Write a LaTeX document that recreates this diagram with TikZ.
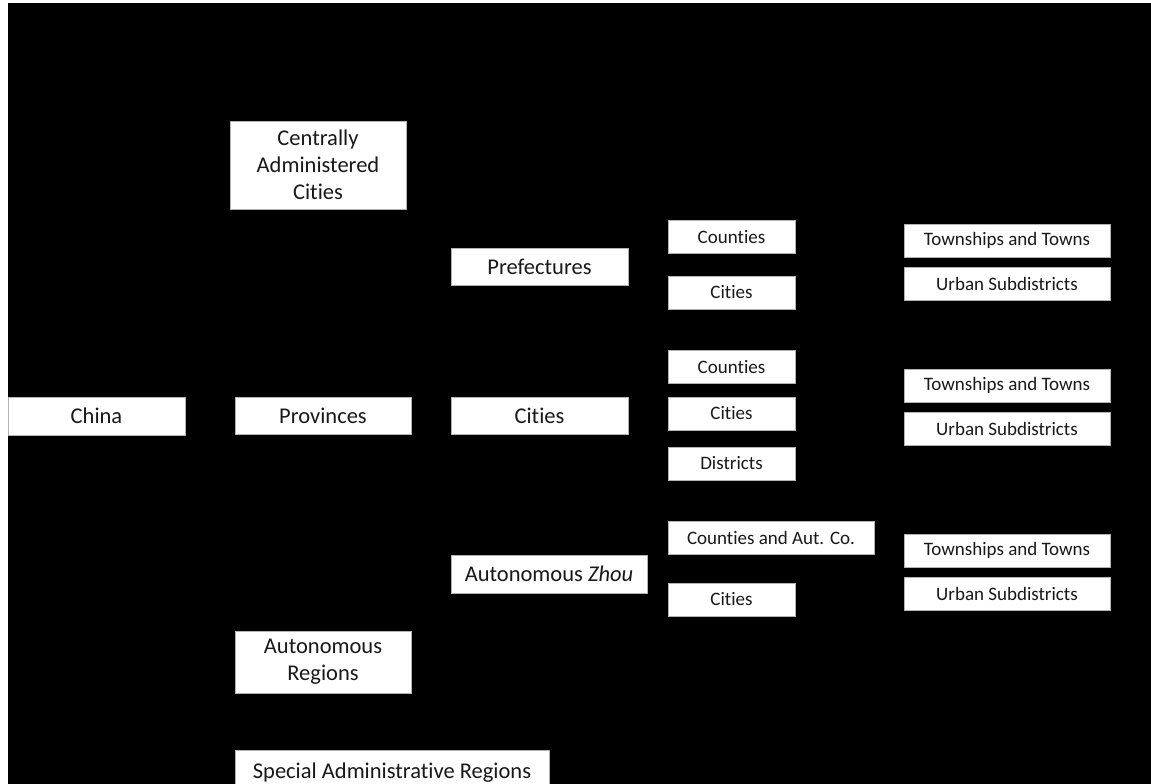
\documentclass[tikz,border=0pt]{standalone}
\usepackage{fontspec}
\setmainfont{Carlito}[Ligatures=NoCommon]
\begin{document}
\begin{tikzpicture}[x=1pt,y=-1pt,
  box/.style={draw=gray!60, line width=0.8pt, fill=white, text=black!90,
    inner sep=0pt, align=center},
  big/.style={box, font=\fontsize{22.5}{27}\selectfont},
  small/.style={box, font=\fontsize{19}{23}\selectfont, minimum height=33pt},
  mid/.style={small, minimum width=127pt},
  far/.style={small, minimum width=206pt}]
\useasboundingbox (0,0) rectangle (1151,784);
\clip (0,0) rectangle (1151,784);
% page background with the dark panel
\fill[white] (0,0) rectangle (1151,784);
\fill[black] (8,3) rectangle (1151,784);

% first level
\node[big, minimum width=177pt, minimum height=38pt] (china) at (96.5,416) {China};

% second level
\node[big, minimum width=176pt, minimum height=88pt] (cac) at (318,165) {Centrally\\Administered\\Cities};
\node[big, minimum width=176pt, minimum height=37pt] (prov) at (323,415.5) {Provinces};
\node[big, minimum width=176pt, minimum height=62pt] (ar) at (323,662) {Autonomous\\Regions};
\node[big, minimum width=314pt, minimum height=50pt, anchor=north] (sar) at (392,750) {\raisebox{9pt}{Special Administrative Regions}};

% third level
\node[big, minimum width=177pt, minimum height=37pt] (pref) at (539.5,266.5) {Prefectures};
\node[big, minimum width=177pt, minimum height=37pt] (cit) at (539.5,415.5) {Cities};
\node[big, minimum width=196pt, minimum height=38pt] (zhou) at (549,574) {Autonomous \textit{Zhou}};

% fourth level
\node[mid] (pcou) at (731.5,236.75) {Counties};
\node[mid] (pcit) at (731.5,292.5) {Cities};
\node[mid] (ccou) at (731.5,367) {Counties};
\node[mid] (ccit) at (731.5,413.5) {Cities};
\node[mid] (cdis) at (731.5,463.5) {Districts};
\node[small, minimum width=206pt] (zcou) at (771,537.75) {Counties and Aut. Co.};
\node[mid] (zcit) at (731.5,599.5) {Cities};

% fifth level
\node[far] (ptow) at (1007,240.5) {Townships and Towns};
\node[far] (psub) at (1007,283.5) {Urban Subdistricts};
\node[far] (ctow) at (1007,385.5) {Townships and Towns};
\node[far] (csub) at (1007,428.5) {Urban Subdistricts};
\node[far] (ztow) at (1007,550.5) {Townships and Towns};
\node[far] (zsub) at (1007,593.5) {Urban Subdistricts};
\end{tikzpicture}
\end{document}
